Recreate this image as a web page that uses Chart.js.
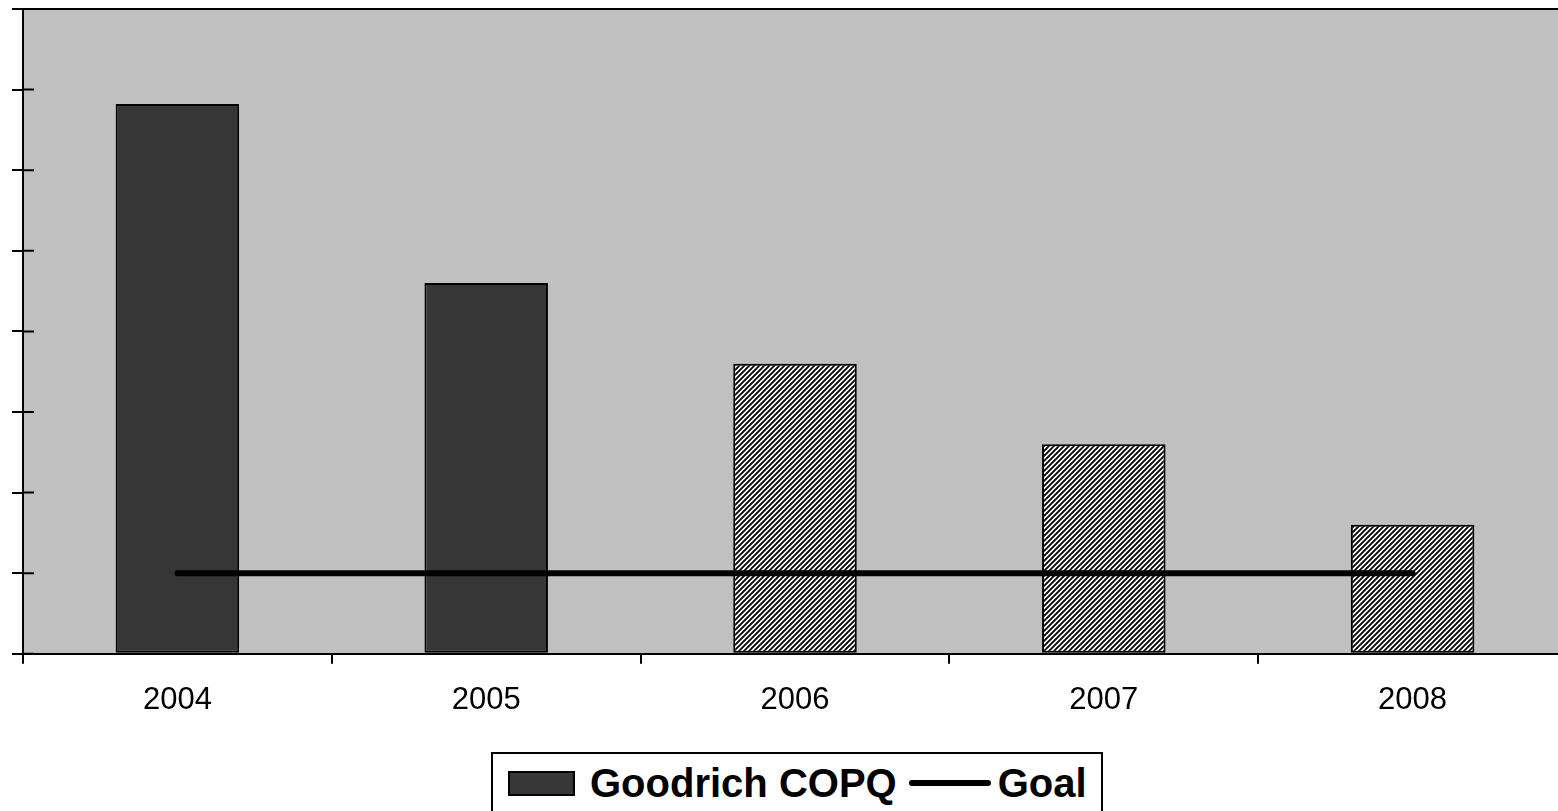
<!DOCTYPE html>
<html>
<head>
<meta charset="utf-8">
<title>Goodrich COPQ</title>
<script src="https://cdn.jsdelivr.net/npm/chart.js@4/dist/chart.umd.min.js"></script>
<style>
  html, body { margin: 0; padding: 0; background: #fff; overflow: hidden; }
  #wrap { position: relative; width: 1558px; height: 811px; overflow: hidden; }
  #chart { position: absolute; left: 0; top: 0; }
  #legend {
    position: absolute; left: 491px; top: 752px; width: 612px; height: 70px;
    box-sizing: border-box; border: 2px solid #000; background: #fff;
    font: bold 40px "Liberation Sans", Arial, sans-serif; color: #000;
    display: flex; align-items: flex-start; padding: 6px 0 0 15px;
    line-height: 46px;
  }
  #legend .item { display: flex; align-items: center; height: 46px; white-space: nowrap; }
  #legend .box { display: inline-block; box-sizing: border-box; width: 67px; height: 25px; border: 2px solid #000; margin-right: 15px; }
  #legend .line { display: inline-block; width: 82px; height: 6px; border-radius: 3px; margin: 0 7px 0 12px; }
</style>
</head>
<body>
<div id="wrap">
  <canvas id="chart" width="1600" height="811"></canvas>
  <div id="legend"></div>
</div>
<script>
// Cost of poor quality by year, with the goal level
const years = ['2004', '2005', '2006', '2007', '2008'];
const copq = [6.82, 4.6, 3.6, 2.6, 1.6];
const goal = [1, 1, 1, 1, 1];
// later years are projections and get the hatched fill
const projected = [false, false, true, true, true];
const yMin = 0, yMax = 8, yStep = 1;

const FONT = '"Liberation Sans", Arial, sans-serif';
const SOLID = '#363636';

function hatchPattern() {
  const s = 5;
  const c = document.createElement('canvas');
  c.width = s; c.height = s;
  const g = c.getContext('2d');
  g.fillStyle = '#fff';
  g.fillRect(0, 0, s, s);
  g.strokeStyle = '#000';
  g.lineWidth = 1.8;
  g.beginPath();
  g.moveTo(-1, s + 1); g.lineTo(s + 1, -1);
  g.moveTo(-1, 1); g.lineTo(1, -1);
  g.moveTo(s - 1, s + 1); g.lineTo(s + 1, s - 1);
  g.stroke();
  return g.createPattern(c, 'repeat');
}
const hatch = hatchPattern();

// grey plot area, its frame, and the inner half of the y tick marks
const plotFrame = {
  id: 'plotFrame',
  beforeDraw(chart) {
    const { ctx, chartArea: a } = chart;
    ctx.save();
    ctx.fillStyle = '#c0c0c0';
    ctx.fillRect(a.left, a.top, a.right - a.left, a.bottom - a.top);
    ctx.restore();
  },
  afterDraw(chart) {
    const { ctx, chartArea: a, scales: { y } } = chart;
    ctx.save();
    ctx.strokeStyle = '#000';
    ctx.lineWidth = 2;
    ctx.beginPath();
    ctx.moveTo(a.left, a.top); ctx.lineTo(a.right, a.top); ctx.lineTo(a.right, a.bottom);
    y.ticks.forEach((t, i) => {
      const py = y.getPixelForTick(i);
      ctx.moveTo(a.left, py); ctx.lineTo(a.left + 11, py);
    });
    ctx.stroke();
    ctx.restore();
  }
};

// legend built from the chart's datasets
const htmlLegend = {
  id: 'htmlLegend',
  afterUpdate(chart) {
    const el = document.getElementById('legend');
    el.innerHTML = '';
    chart.data.datasets.forEach(ds => {
      const item = document.createElement('span');
      item.className = 'item';
      const sw = document.createElement('span');
      if (ds.type === 'line') {
        sw.className = 'line';
        sw.style.background = ds.borderColor;
      } else {
        sw.className = 'box';
        sw.style.background = SOLID;
      }
      const tx = document.createElement('span');
      tx.textContent = ds.label;
      item.appendChild(sw);
      item.appendChild(tx);
      el.appendChild(item);
    });
  }
};

new Chart(document.getElementById('chart'), {
  type: 'bar',
  data: {
    labels: years,
    datasets: [
      {
        label: 'Goodrich COPQ',
        data: copq,
        backgroundColor: projected.map(p => p ? hatch : SOLID),
        borderColor: '#000',
        borderWidth: 2,
        borderSkipped: false,
        barPercentage: 0.4,
        categoryPercentage: 1,
        order: 1
      },
      {
        type: 'line',
        label: 'Goal',
        data: goal,
        borderColor: '#000',
        borderWidth: 6,
        borderCapStyle: 'round',
        pointRadius: 0,
        fill: false,
        order: 0
      }
    ]
  },
  options: {
    responsive: false,
    animation: false,
    devicePixelRatio: 1,
    layout: { padding: { left: 12, right: 33, top: 9, bottom: 74 } },
    plugins: { legend: { display: false }, tooltip: { enabled: false } },
    scales: {
      x: {
        offset: true,
        grid: { offset: true, drawOnChartArea: false, tickLength: 10, color: '#000', lineWidth: 2 },
        border: { color: '#000', width: 2 },
        ticks: { color: '#000', font: { family: FONT, size: 31 }, padding: 18, maxRotation: 0, autoSkip: false }
      },
      y: {
        min: yMin, max: yMax,
        grid: { drawOnChartArea: false, tickLength: 11, color: '#000', lineWidth: 2 },
        border: { color: '#000', width: 2 },
        ticks: { display: false, stepSize: yStep }
      }
    }
  },
  plugins: [plotFrame, htmlLegend]
});
</script>
</body>
</html>
